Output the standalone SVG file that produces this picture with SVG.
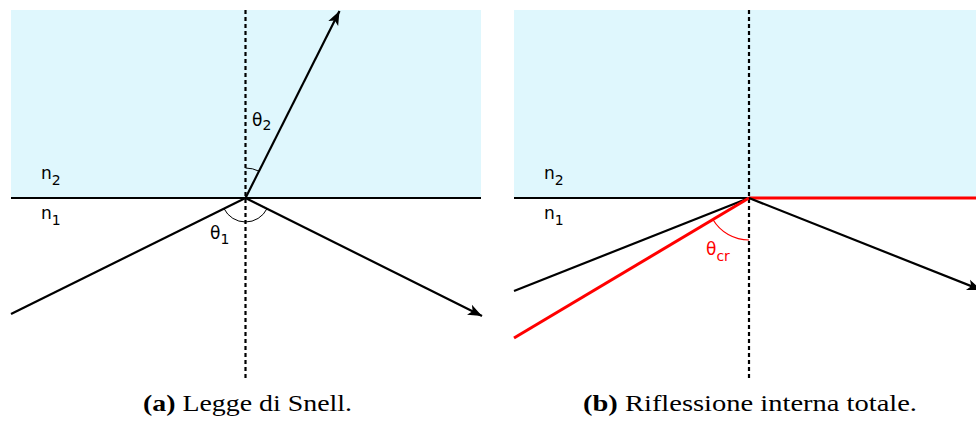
<svg xmlns="http://www.w3.org/2000/svg" width="976" height="422" viewBox="0 0 976 422">
<style>
.bg{fill:#DFF7FD;stroke:none}
.ln{stroke:#000;stroke-width:2.2;fill:none}
.red{stroke:#FF0000;stroke-width:3;fill:none}
.dash{stroke:#000;stroke-width:2.2;stroke-dasharray:4 3;fill:none}
.arc{stroke:#000;stroke-width:1;fill:none}
.arcr{stroke:#FF0000;stroke-width:1.2;fill:none}
.lbl{font-family:"DejaVu Sans",sans-serif;font-size:17px;fill:#000}
.sub{font-size:14px}
.cap{font-family:"Liberation Serif",serif;font-size:24px;fill:#000}
</style>
<defs>
<marker id="arr" markerUnits="userSpaceOnUse" markerWidth="15" markerHeight="12" refX="14" refY="5.5" orient="auto" overflow="visible">
<path d="M0,0 L14,5.5 L0,11 L3.5,5.5 z" fill="#000"/>
</marker>
</defs>
<g id="panel-a">
<rect class="bg" x="11" y="10" width="470" height="188"/>
<g id="connectors-a">
<line class="ln" x1="11" y1="198" x2="481" y2="198"/>
<line class="dash" x1="245.5" y1="10" x2="245.5" y2="381"/>
<line class="ln" x1="11" y1="314" x2="245.5" y2="198"/>
<line class="ln" x1="245.5" y1="198" x2="339.5" y2="11" marker-end="url(#arr)"/>
<line class="ln" x1="245.5" y1="198" x2="482" y2="316" marker-end="url(#arr)"/>
<path class="arc" d="M245.5,168 A30,30 0 0 1 259,171.2"/>
<path class="arc" d="M224,208.6 A24,24 0 0 0 267,208.7"/>
</g>
<g id="labels-a">
<text class="lbl" x="41" y="179">n<tspan class="sub" dy="6">2</tspan></text>
<text class="lbl" x="41" y="219">n<tspan class="sub" dy="6">1</tspan></text>
<text class="lbl" x="252" y="126">θ<tspan class="sub" dy="4">2</tspan></text>
<text class="lbl" x="210" y="239">θ<tspan class="sub" dy="5">1</tspan></text>
</g>
<text id="caption-a" class="cap" x="143" y="411" textLength="209" lengthAdjust="spacingAndGlyphs"><tspan font-weight="bold">(a)</tspan> Legge di Snell.</text>
</g>
<g id="panel-b">
<rect class="bg" x="514" y="10" width="462" height="188"/>
<g id="connectors-b">
<line class="ln" x1="514" y1="198" x2="749" y2="198"/>
<line class="red" x1="749" y1="198" x2="976" y2="198"/>
<line class="dash" x1="749" y1="10" x2="749" y2="381"/>
<line class="ln" x1="514" y1="291" x2="749" y2="198"/>
<line class="red" x1="514" y1="338" x2="749" y2="198"/>
<line class="ln" x1="749" y1="198" x2="981" y2="290" marker-end="url(#arr)"/>
<path class="arcr" d="M712.9,219.5 A42,42 0 0 0 749,240"/>
</g>
<g id="labels-b">
<text class="lbl" x="544" y="179">n<tspan class="sub" dy="6">2</tspan></text>
<text class="lbl" x="544" y="219">n<tspan class="sub" dy="6">1</tspan></text>
<text class="lbl" x="706" y="255" style="fill:#FF0000">θ<tspan class="sub" dy="6">cr</tspan></text>
</g>
<text id="caption-b" class="cap" x="583" y="411" textLength="334" lengthAdjust="spacingAndGlyphs"><tspan font-weight="bold">(b)</tspan> Riflessione interna totale.</text>
</g>
</svg>
